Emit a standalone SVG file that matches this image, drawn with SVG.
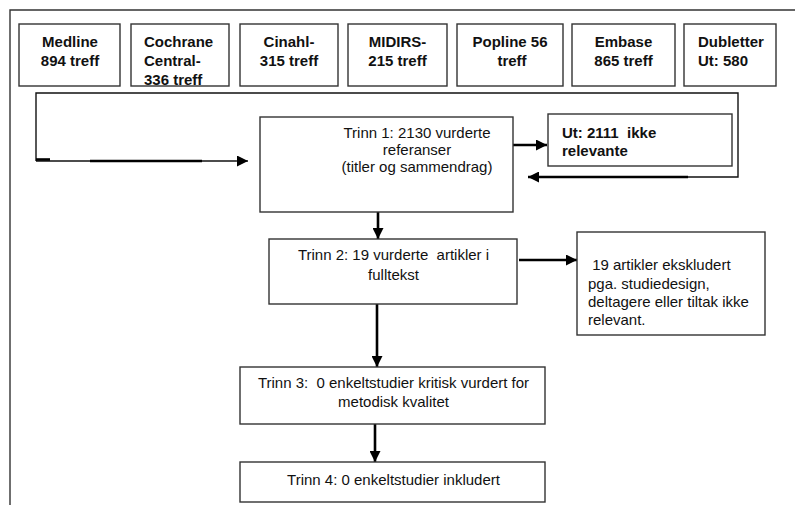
<svg xmlns="http://www.w3.org/2000/svg" width="795" height="505" viewBox="0 0 795 505">
<defs>
<style>
.box{fill:#fff;stroke:#333;stroke-width:1.4}
.frame{fill:none;stroke:#333;stroke-width:1.4}
.thin{fill:none;stroke:#111;stroke-width:1.4}
.thick{fill:none;stroke:#000;stroke-width:2.6}
.arr{fill:none;stroke:#000;stroke-width:2.6;marker-end:url(#ah)}
text{font-family:"Liberation Sans",Arial,sans-serif;font-size:15px;fill:#111}
.b{font-weight:bold}
.m{text-anchor:middle}
</style>
<marker id="ah" viewBox="0 0 10 10" refX="10" refY="5" markerWidth="11" markerHeight="11" markerUnits="userSpaceOnUse" orient="auto">
<path d="M0,0 L10,5 L0,10 Z" fill="#000"/>
</marker>
</defs>
<rect width="795" height="505" fill="#fff"/>
<path class="frame" d="M10,505 V10 H795"/>

<g id="connectors">
<path class="thin" d="M36,161 V93 H738 V177 H688"/>
<path class="thin" d="M36,161 H236"/>
<path class="thin" d="M236,161 H248" marker-end="url(#ah)"/>
<path class="thick" d="M36,159.5 H50"/>
<path class="thick" d="M90,161 H202"/>
<path class="arr" d="M688,177 H528"/>
<path class="arr" d="M513,145 H547"/>
<path class="arr" d="M378,212 V239"/>
<path class="arr" d="M519,260 H577"/>
<path class="arr" d="M377,304 V367"/>
<path class="arr" d="M375,424 V462"/>
</g>

<g id="medline">
<rect class="box" x="19" y="24" width="101" height="62"/>
<text class="b m" x="70" y="47">Medline</text>
<text class="b m" x="70" y="65.5">894 treff</text>
</g>
<g id="cochrane">
<rect class="box" x="131" y="24" width="98" height="62"/>
<text class="b" x="144" y="47">Cochrane</text>
<text class="b" x="144" y="65.5">Central-</text>
<text class="b" x="144" y="85">336 treff</text>
</g>
<g id="cinahl">
<rect class="box" x="240" y="24" width="98" height="62"/>
<text class="b m" x="289" y="47">Cinahl-</text>
<text class="b m" x="289" y="65.5">315 treff</text>
</g>
<g id="midirs">
<rect class="box" x="348" y="24" width="99" height="62"/>
<text class="b m" x="397.5" y="47">MIDIRS-</text>
<text class="b m" x="397.5" y="65.5">215 treff</text>
</g>
<g id="popline">
<rect class="box" x="457" y="24" width="106" height="62"/>
<text class="b m" x="510" y="47">Popline 56</text>
<text class="b m" x="512" y="65.5">treff</text>
</g>
<g id="embase">
<rect class="box" x="572" y="24" width="103" height="62"/>
<text class="b m" x="623.5" y="47">Embase</text>
<text class="b m" x="623.5" y="65.5">865 treff</text>
</g>
<g id="dubletter">
<rect class="box" x="684" y="24" width="92" height="62"/>
<text class="b" x="698" y="47">Dubletter</text>
<text class="b" x="698" y="65.5">Ut: 580</text>
</g>

<g id="trinn1">
<rect class="box" x="260" y="117" width="253" height="95"/>
<text class="m" x="417" y="138">Trinn 1: 2130 vurderte</text>
<text class="m" x="417" y="155">referanser</text>
<text class="m" x="417" y="172">(titler og sammendrag)</text>
</g>
<g id="ut">
<rect class="box" x="548" y="114" width="184" height="52"/>
<text class="b" x="562" y="138" style="white-space:pre">Ut: 2111  ikke</text>
<text class="b" x="562" y="156">relevante</text>
</g>
<g id="trinn2">
<rect class="box" x="269" y="239" width="248" height="65"/>
<text class="m" x="393.5" y="260" style="white-space:pre">Trinn 2: 19 vurderte  artikler i</text>
<text class="m" x="393.5" y="280">fulltekst</text>
</g>
<g id="ekskludert">
<rect class="box" x="577" y="232" width="188" height="103"/>
<text x="588" y="270" style="white-space:pre"> 19 artikler ekskludert</text>
<text x="588" y="288.5">pga. studiedesign,</text>
<text x="588" y="307">deltagere eller tiltak ikke</text>
<text x="588" y="325">relevant.</text>
</g>
<g id="trinn3">
<rect class="box" x="240" y="367" width="305" height="57"/>
<text class="m" x="393.5" y="388" style="white-space:pre">Trinn 3:  0 enkeltstudier kritisk vurdert for</text>
<text class="m" x="393.5" y="407">metodisk kvalitet</text>
</g>
<g id="trinn4">
<rect class="box" x="240" y="462" width="305" height="40"/>
<text class="m" x="393.5" y="485">Trinn 4: 0 enkeltstudier inkludert</text>
</g>
</svg>
